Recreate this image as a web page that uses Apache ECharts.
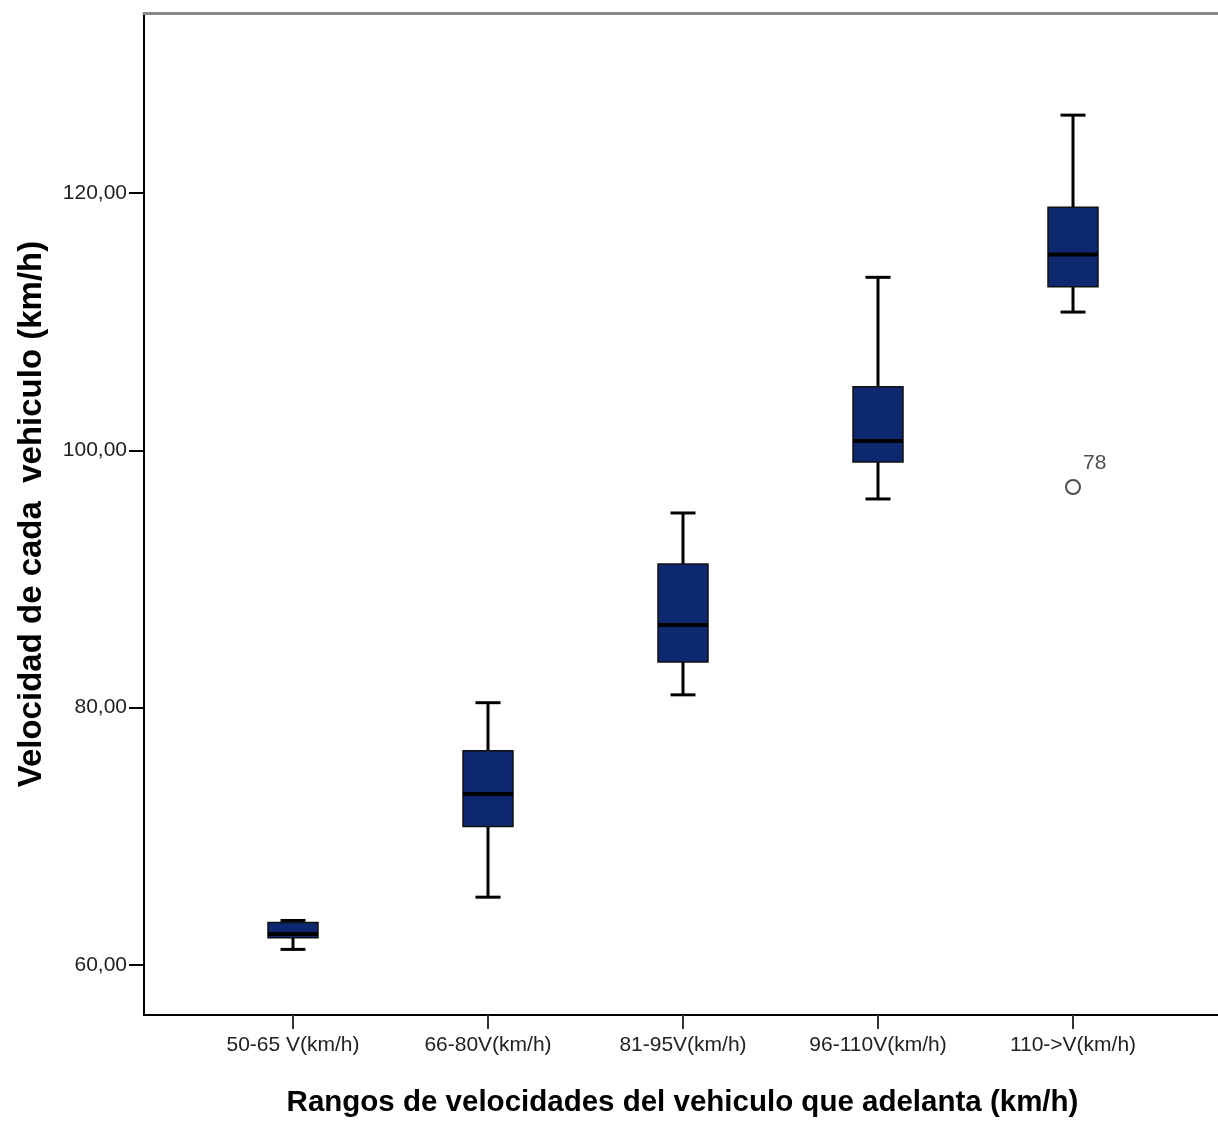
<!DOCTYPE html>
<html>
<head>
<meta charset="utf-8">
<script src="https://cdn.jsdelivr.net/npm/echarts@6/dist/echarts.min.js"></script>
<style>
  html, body { margin: 0; padding: 0; background: #fff; }
  #chart { width: 1218px; height: 1122px; }
</style>
</head>
<body>
<div id="chart"></div>
<script>
// rangos de velocidad (eje x)
var categories = ['50-65 V(km/h)', '66-80V(km/h)', '81-95V(km/h)', '96-110V(km/h)', '110->V(km/h)']
// cajas: bigote inferior, Q1, mediana, Q3, bigote superior
var whiskerLow = [61.2, 65.26, 80.99, 96.22, 110.75]
var q1 = [62.1, 70.75, 83.55, 99.09, 112.72]
var median = [62.4, 73.29, 86.43, 100.72, 115.23]
var q3 = [63.3, 76.65, 91.17, 104.95, 118.89]
var whiskerHigh = [63.45, 80.38, 95.13, 113.45, 126.06]
// atipicos
var outliers = [[4, 97.15]]
var outlierLabels = ['78']
var yTicks = [60, 80, 100, 120]

var boxData = categories.map(function (c, i) {
  return [i, whiskerLow[i], q1[i], median[i], q3[i], whiskerHigh[i]]
})

var font = '"Liberation Sans", Arial, sans-serif'

function renderBox (params, api) {
  var i = api.value(0)
  var pLow = api.coord([i, api.value(1)])
  var pQ1 = api.coord([i, api.value(2)])
  var pMed = api.coord([i, api.value(3)])
  var pQ3 = api.coord([i, api.value(4)])
  var pHigh = api.coord([i, api.value(5)])
  var x = pMed[0]
  var halfBox = 25
  var halfCap = 12.5
  var line = { stroke: '#000', lineWidth: 3 }
  return {
    type: 'group',
    children: [
      { type: 'line', shape: { x1: x, y1: pHigh[1], x2: x, y2: pQ3[1] }, style: line },
      { type: 'line', shape: { x1: x, y1: pQ1[1], x2: x, y2: pLow[1] }, style: line },
      { type: 'line', shape: { x1: x - halfCap, y1: pHigh[1], x2: x + halfCap, y2: pHigh[1] }, style: line },
      { type: 'line', shape: { x1: x - halfCap, y1: pLow[1], x2: x + halfCap, y2: pLow[1] }, style: line },
      {
        type: 'rect',
        shape: { x: x - halfBox, y: pQ3[1], width: halfBox * 2, height: pQ1[1] - pQ3[1] },
        style: { fill: '#0e2870', stroke: '#111', lineWidth: 1.5 }
      },
      { type: 'line', shape: { x1: x - halfBox, y1: pMed[1], x2: x + halfBox, y2: pMed[1] }, style: { stroke: '#000', lineWidth: 4 } }
    ]
  }
}

var myChart = echarts.init(document.getElementById('chart'))
var option = {
  animation: false,
  backgroundColor: '#fff',
  grid: [
    { left: 144, right: -3, top: 13, bottom: 107, containLabel: false, outerBoundsMode: 'none' },
    { left: 195.5, right: 47.5, top: 13, bottom: 107, containLabel: false, outerBoundsMode: 'none' }
  ],
  xAxis: [
    {
      gridIndex: 0,
      type: 'value',
      min: 0,
      max: 1,
      position: 'bottom',
      axisLine: { show: true, lineStyle: { color: '#000', width: 2 } },
      axisTick: { show: false },
      axisLabel: { show: false },
      splitLine: { show: false },
      name: 'Rangos de velocidades del vehiculo que adelanta (km/h)',
      nameLocation: 'middle',
      nameGap: 73,
      nameTextStyle: { fontFamily: font, fontWeight: 'bold', fontSize: 29.5, color: '#000' }
    },
    {
      gridIndex: 0,
      type: 'value',
      min: 0,
      max: 1,
      position: 'top',
      axisLine: { show: true, lineStyle: { color: '#888', width: 3 } },
      axisTick: { show: false },
      axisLabel: { show: false },
      splitLine: { show: false }
    },
    {
      gridIndex: 1,
      type: 'category',
      data: categories,
      axisLine: { show: false },
      axisTick: { show: true, alignWithLabel: true, length: 14, lineStyle: { color: '#333', width: 2 } },
      axisLabel: { margin: 20, fontFamily: font, fontSize: 21, color: '#222' },
      splitLine: { show: false }
    }
  ],
  yAxis: [
    {
      gridIndex: 0,
      type: 'value',
      min: 56.1,
      max: 134,
      axisLine: { show: true, lineStyle: { color: '#000', width: 2 } },
      axisTick: { show: true, length: 15, customValues: yTicks, lineStyle: { color: '#000', width: 2 } },
      axisLabel: {
        margin: 17,
        customValues: yTicks,
        fontFamily: font,
        fontSize: 21,
        color: '#222',
        formatter: function (v) { return v.toFixed(2).replace('.', ',') }
      },
      splitLine: { show: false },
      name: 'Velocidad de cada  vehiculo (km/h)',
      nameLocation: 'middle',
      nameGap: 96,
      nameTextStyle: { fontFamily: font, fontWeight: 'bold', fontSize: 33, color: '#000' }
    },
    {
      gridIndex: 1,
      type: 'value',
      min: 56.1,
      max: 134,
      show: false,
      splitLine: { show: false }
    }
  ],
  series: [
    {
      type: 'custom',
      xAxisIndex: 2,
      yAxisIndex: 1,
      renderItem: renderBox,
      encode: { x: 0, y: [1, 2, 3, 4, 5] },
      data: boxData
    },
    {
      type: 'scatter',
      xAxisIndex: 2,
      yAxisIndex: 1,
      symbol: 'circle',
      symbolSize: 14,
      itemStyle: { color: '#fff', borderColor: '#222', borderWidth: 2 },
      label: {
        show: true,
        position: 'right',
        offset: [-3, -24],
        fontFamily: font,
        fontSize: 21,
        color: '#222',
        formatter: function (p) { return outlierLabels[p.dataIndex] }
      },
      data: outliers
    }
  ]
}
option && myChart.setOption(option)
window.addEventListener('resize', () => { myChart.resize() })
</script>
</body>
</html>
